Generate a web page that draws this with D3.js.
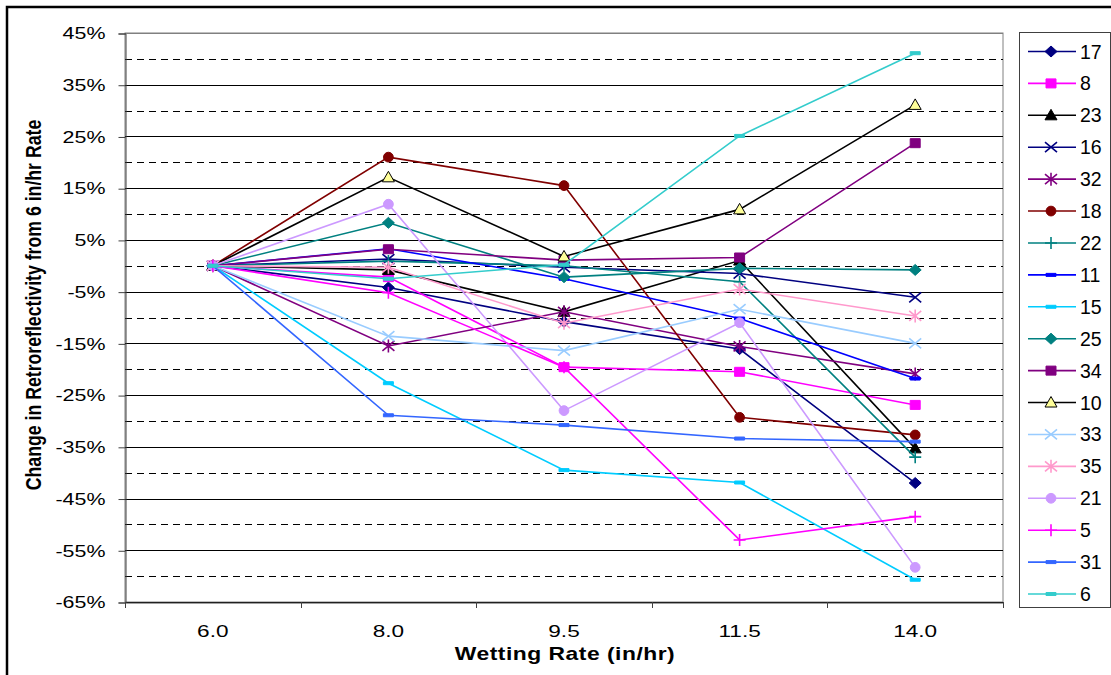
<!DOCTYPE html>
<html><head><meta charset="utf-8">
<script src="https://cdn.jsdelivr.net/npm/d3@7"></script>
<style>body{margin:0;background:#fff}svg{display:block;font-family:Arial,"Liberation Sans",sans-serif}</style>
</head><body><svg id="c" width="1111" height="675"></svg>
<script>
const categories = ["6.0","8.0","9.5","11.5","14.0"];
const seriesNames = ["17","8","23","16","32","18","22","11","15","25","34","10","33","35","21","5","31","6"];
const s17 = [0,-4.2,-10.8,-16.1,-42.0];
const s8  = [0,-2.2,-19.6,-20.5,-26.9];
const s23 = [0,-0.8,-8.9,1.0,-35.3];
const s16 = [0,1.3,-0.3,-1.5,-6.1];
const s32 = [0,-15.5,-8.9,-15.6,-20.9];
const s18 = [0,21.0,15.5,-29.3,-32.7];
const s22 = [0,0.9,0.0,-3.1,-37.0];
const s11 = [0,3.3,-2.5,-10.2,-21.8];
const s15 = [0,-22.7,-39.5,-41.9,-60.7];
const s25 = [0,8.3,-2.2,-0.5,-0.8];
const s34 = [0,3.2,1.1,1.6,23.7];
const s10 = [0,17.1,1.8,10.9,31.1];
const s33 = [0,-13.6,-16.4,-8.4,-15.0];
const s35 = [0,-0.3,-11.1,-4.5,-9.7];
const s21 = [0,11.9,-28.0,-11.0,-58.3];
const s5  = [0,-5.2,-19.6,-53.0,-48.5];
const s31 = [0,-28.9,-30.8,-33.4,-34.0];
const s6  = [0,-2.5,0.2,25.1,41.1];
const seriesValues = [s17,s8,s23,s16,s32,s18,s22,s11,s15,s25,s34,s10,s33,s35,s21,s5,s31,s6];
const yTickValues = [45,35,25,15,5,-5,-15,-25,-35,-45,-55,-65];
const yDashValues = [40,30,20,10,0,-10,-20,-30,-40,-50,-60];

// styles: [lineColor, marker, fill, stroke]
const styles = {
 "17":["#000080","diamond","#000080","#000080"],
 "8":["#FF00FF","square","#FF00FF","#FF00FF"],
 "23":["#000000","triangle","#000000","#000000"],
 "16":["#000080","x",null,"#000080"],
 "32":["#800080","star",null,"#800080"],
 "18":["#800000","circle","#800000","#800000"],
 "22":["#008080","plus",null,"#008080"],
 "11":["#0000FF","dash","#0000FF","#0000FF"],
 "15":["#00CCFF","dash","#00CCFF","#00CCFF"],
 "25":["#008080","diamond","#008080","#008080"],
 "34":["#800080","square","#800080","#800080"],
 "10":["#000000","triangle","#FFFF99","#000000"],
 "33":["#99CCFF","x",null,"#99CCFF"],
 "35":["#FF99CC","star",null,"#FF99CC"],
 "21":["#CC99FF","circle","#CC99FF","#CC99FF"],
 "5":["#FF00FF","plus",null,"#FF00FF"],
 "31":["#3366FF","dash","#3366FF","#3366FF"],
 "6":["#33CCCC","dash","#33CCCC","#33CCCC"]
};

const svg = d3.select("#c");
const L=125, R=1003, T=33, B=602;
const x = d3.scaleBand().domain(categories).range([L,R]);
const y = d3.scaleLinear().domain([-65,45]).range([B,T]);

// outer border
svg.append("rect").attr("x",7).attr("y",7).attr("width",1120).attr("height",700)
  .attr("fill","none").attr("stroke","#000").attr("stroke-width",2.5);

// plot area
svg.append("rect").attr("x",L).attr("y",T).attr("width",R-L).attr("height",B-T)
  .attr("fill","#fff").attr("stroke","#808080").attr("stroke-width",1);

const g = svg.append("g");
g.selectAll("line.dash").data(yDashValues).join("line")
  .attr("x1",L).attr("x2",R).attr("y1",d=>Math.round(y(d))+0.5).attr("y2",d=>Math.round(y(d))+0.5)
  .attr("stroke","#000").attr("stroke-dasharray","7,5").attr("stroke-width",1);
g.selectAll("line.solid").data(yTickValues).join("line")
  .attr("x1",L).attr("x2",R).attr("y1",d=>Math.round(y(d))+0.5).attr("y2",d=>Math.round(y(d))+0.5)
  .attr("stroke",(d,i)=>i===0?"#808080":"#000").attr("stroke-width",1);

// y axis
const yAxis = d3.axisLeft(y).tickValues(yTickValues).tickFormat(d=>d+"%").tickSize(7).tickPadding(13);
const ya = svg.append("g").attr("transform",`translate(${L+0.5},0.5)`).call(yAxis);
ya.select(".domain").attr("stroke","#404040");
ya.selectAll(".tick line").attr("stroke","#404040");
ya.selectAll("text").attr("font-size",16.5).attr("fill","#000")
  .attr("x",-20/1.3).attr("transform","scale(1.3,1)");

// x axis
const xAxis = d3.axisBottom(x).tickSize(0).tickPadding(0);
const xa = svg.append("g").attr("transform",`translate(0,${B+0.5})`).call(xAxis);
xa.select(".domain").attr("stroke","#404040");
xa.selectAll("text").attr("font-size",17).attr("fill","#000").attr("dy",null)
  .attr("y",35).attr("transform","scale(1.33,1)");
// category boundary ticks
const bounds = categories.map(c=>x(c)).concat([R]);
svg.selectAll("line.xt").data(bounds).join("line")
  .attr("x1",d=>Math.round(d)+0.5).attr("x2",d=>Math.round(d)+0.5).attr("y1",B).attr("y2",B+6)
  .attr("stroke","#404040");

// titles
svg.append("text").attr("transform","translate(565,660) scale(1.27,1)").attr("text-anchor","middle")
  .attr("font-weight","bold").attr("font-size",18).attr("letter-spacing",0.4).text("Wetting Rate (in/hr)");
svg.append("text").attr("transform","translate(41,305) scale(1.24,1) rotate(-90)").attr("text-anchor","middle")
  .attr("font-weight","bold").attr("font-size",17.7).text("Change in Retroreflectivity from 6 in/hr Rate");

function markerPath(type){
  switch(type){
    case "diamond": return "M0,-5.5L6,0L0,5.5L-6,0Z";
    case "square": return "M-5,-4.5h10v9h-10z";
    case "triangle": return "M0,-6L6,4.5L-6,4.5Z";
    case "circle": return d3.symbol(d3.symbolCircle,75)();
    case "x": return "M-6,-5L6,5M-6,5L6,-5";
    case "plus": return "M-6,0L6,0M0,-6L0,6";
    case "star": return "M-6,-5L6,5M-6,5L6,-5M0,-6.5L0,6.5";
    case "dash": return "M-5,-1.5h10v3h-10z";
  }
}

const cx = c => x(c)+x.bandwidth()/2;
const line = d3.line().x((d,i)=>cx(categories[i])).y(d=>y(d));

seriesNames.forEach((name,si)=>{
  const st = styles[name];
  const vals = seriesValues[si];
  const sg = svg.append("g");
  sg.append("path").attr("d",line(vals)).attr("fill","none").attr("stroke",st[0]).attr("stroke-width",1.6);
  const open = st[2]===null;
  sg.selectAll("path.m").data(vals).join("path")
    .attr("transform",(d,i)=>`translate(${cx(categories[i])},${y(d)})`)
    .attr("d",markerPath(st[1]))
    .attr("fill",open?"none":st[2]).attr("stroke",st[3]).attr("stroke-width",open?1.6:1);
});

// legend
const lg = svg.append("g");
lg.append("rect").attr("x",1019.5).attr("y",32.5).attr("width",91).attr("height",575)
  .attr("fill","#fff").attr("stroke","#404040").attr("stroke-width",1);
const ly = d3.scalePoint().domain(seriesNames).range([51.5,594]);
seriesNames.forEach(name=>{
  const st = styles[name];
  const yy = ly(name);
  lg.append("line").attr("x1",1028).attr("x2",1076).attr("y1",yy).attr("y2",yy).attr("stroke",st[0]).attr("stroke-width",1.6);
  const open = st[2]===null;
  lg.append("path").attr("transform",`translate(1051,${yy})`).attr("d",markerPath(st[1]))
    .attr("fill",open?"none":st[2]).attr("stroke",st[3]).attr("stroke-width",open?1.6:1);
  lg.append("text").attr("x",1080).attr("y",yy).attr("dy","0.36em").attr("font-size",19.5).text(name);
});
</script></body></html>
